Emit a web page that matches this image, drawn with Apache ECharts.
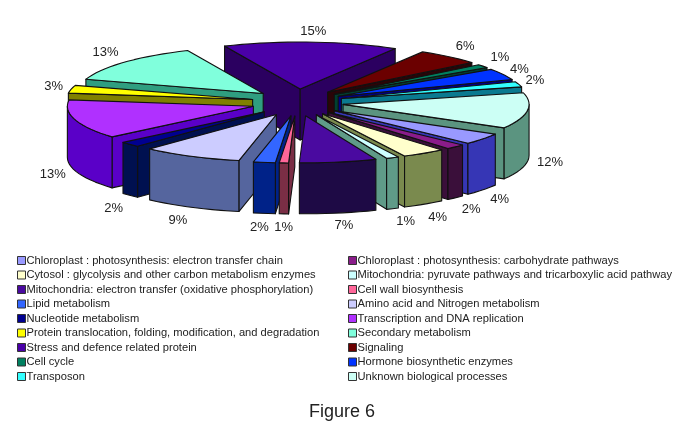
<!DOCTYPE html>
<html>
<head>
<meta charset="utf-8">
<style>
  html, body { margin: 0; padding: 0; background: #fff; }
  #chart { width: 685px; height: 427px; }
</style>
<script src="https://cdn.jsdelivr.net/npm/echarts@6/dist/echarts.min.js"></script>
</head>
<body>
<div id="chart"></div>
<script>
// legend order, the slices run clockwise in this order
const categories = [
  'Chloroplast : photosynthesis: electron transfer chain',
  'Chloroplast : photosynthesis: carbohydrate pathways',
  'Cytosol : glycolysis and other carbon metabolism enzymes',
  'Mitochondria: pyruvate pathways and tricarboxylic acid pathway',
  'Mitochondria: electron transfer (oxidative phosphorylation)',
  'Cell wall biosynthesis',
  'Lipid metabolism',
  'Amino acid and Nitrogen metabolism',
  'Nucleotide metabolism',
  'Transcription and DNA replication',
  'Protein translocation, folding, modification, and degradation',
  'Secondary metabolism',
  'Stress and defence related protein',
  'Signaling',
  'Cell cycle',
  'Hormone biosynthetic enzymes',
  'Transposon',
  'Unknown biological processes'
]
// the labels show them rounded
const percents = [3.9, 1.7, 3.8, 1.1, 6.7, 0.8, 1.9, 8.7, 1.8, 13.45, 2.7, 13.45, 15.2, 5.6, 1.2, 3.9, 1.8, 12.3]

const topColors = ['#9999FF', '#8A1C8A', '#FFFFCC', '#CCFFFF', '#4A0AA0', '#FF6699', '#3366FF', '#CCCCFF', '#000090',
  '#B030FF', '#FFFF00', '#80FFDC', '#4A00A8', '#6B0000', '#008060', '#0033FF', '#33FFFF', '#CCFFF5']
const sideColors = ['#3636B5', '#3A0F3A', '#7A8A4E', '#5F9B88', '#1E0A45', '#7A2E45', '#002288', '#55659E', '#001050',
  '#5A00C8', '#808000', '#2F9E80', '#2B0060', '#2A0508', '#004030', '#000080', '#0A7A90', '#5B9480']

// small shifts of the labels away from the computed spot
const labelShift = [[1, 2], [2, 3], [3, 3], [5, 2], [2, 1], [1, 2], [-2, 2], [-4, 2], [-2, 5],
  [-3, 1], [2, 0], [-4, -2], [1, 1], [3, -1], [1, -1], [-1, 1], [-3, 0], [3, -1]]

const cx = 297.5
const cy = 102.5
const rx = 186
const ry = 47
const explodeX = 46
const explodeY = 13.5
const depth = 51
const firstAngle = 30 // screen degrees, clockwise from east

const total = percents.reduce((a, b) => a + b, 0)
const rad = (d) => (d * Math.PI) / 180

let acc = firstAngle
const slices = percents.map((v, i) => {
  const start = acc
  acc += (v / total) * 360
  const mid = (start + acc) / 2
  return { i, start, end: acc, mid }
})

function arcPoints(s, a, b, dy) {
  const tipX = cx + explodeX * Math.cos(rad(s.mid))
  const tipY = cy + explodeY * Math.sin(rad(s.mid))
  const pts = []
  const n = Math.max(2, Math.ceil((b - a) / 3))
  for (let k = 0; k <= n; k++) {
    const t = rad(a + ((b - a) * k) / n)
    pts.push([tipX + rx * Math.cos(t), tipY + ry * Math.sin(t) + dy])
  }
  return pts
}

function renderSlice(s) {
  return function (params, api) {
    const fill = topColors[s.i]
    const side = sideColors[s.i]
    const line = { stroke: '#111', lineWidth: 1.1, lineJoin: 'round' }
    const tipX = cx + explodeX * Math.cos(rad(s.mid))
    const tipY = cy + explodeY * Math.sin(rad(s.mid))
    const children = []
    const wall = (pts) => {
      const lower = pts.slice().reverse().map((p) => [p[0], p[1] + depth])
      children.push({
        type: 'polygon',
        shape: { points: pts.concat(lower) },
        style: Object.assign({ fill: side }, line)
      })
    }
    // radial walls that face the viewer
    if (Math.cos(rad(s.start)) < 0) wall([[tipX, tipY], arcPoints(s, s.start, s.start, 0)[0]])
    if (Math.cos(rad(s.end)) > 0) wall([[tipX, tipY], arcPoints(s, s.end, s.end, 0)[0]])
    // outer wall, only the front half of the ellipse
    for (let k = 0; k < 2; k++) {
      const a = Math.max(s.start, 360 * k)
      const b = Math.min(s.end, 180 + 360 * k)
      if (b > a) wall(arcPoints(s, a, b, 0))
    }
    children.push({
      type: 'polygon',
      shape: { points: [[tipX, tipY]].concat(arcPoints(s, s.start, s.end, 0)) },
      style: Object.assign({ fill }, line)
    })
    return { type: 'group', children }
  }
}

function renderLabels(params, api) {
  const s = slices[api.value(0)]
  const c = Math.cos(rad(s.mid))
  const n = Math.sin(rad(s.mid))
  const shift = labelShift[s.i]
  return {
    type: 'text',
    style: {
      text: Math.round(percents[s.i]) + '%',
      x: cx + (rx + explodeX + 20) * c + shift[0],
      y: cy + (ry + explodeY + 12) * n + (n > 0 ? depth : 0) + shift[1],
      fill: '#222',
      font: '13px "Liberation Sans"',
      align: 'center',
      verticalAlign: 'middle'
    }
  }
}

// back slices first so the front ones cover them
const drawOrder = slices.slice().sort((a, b) => Math.sin(rad(a.mid)) - Math.sin(rad(b.mid)))

const series = drawOrder.map((s, order) => ({
  type: 'custom',
  name: categories[s.i],
  coordinateSystem: 'none',
  silent: true,
  z: 2 + order,
  itemStyle: { color: topColors[s.i] },
  renderItem: renderSlice(s),
  data: [percents[s.i]]
}))
series.push({
  type: 'custom',
  name: 'labels',
  coordinateSystem: 'none',
  silent: true,
  z: 40,
  renderItem: renderLabels,
  data: percents.map((v, i) => [i, v])
})

const legendBase = {
  orient: 'vertical',
  top: 250,
  icon: 'rect',
  itemWidth: 8,
  itemHeight: 8,
  itemGap: 3.5,
  selectedMode: false,
  itemStyle: { borderColor: '#333', borderWidth: 1 },
  textStyle: { color: '#222', fontFamily: 'Liberation Sans', fontSize: 11.15, padding: [0, 0, 0, -4] }
}

const chart = echarts.init(document.getElementById('chart'))
chart.setOption({
  animation: false,
  backgroundColor: '#fff',
  title: {
    text: 'Figure 6',
    left: 309,
    top: 403,
    padding: 0,
    textStyle: { color: '#222', fontFamily: 'Liberation Sans', fontSize: 18, fontWeight: 'normal' }
  },
  legend: [
    Object.assign({}, legendBase, { left: 12, data: categories.filter((c, i) => i % 2 === 0) }),
    Object.assign({}, legendBase, { left: 343, data: categories.filter((c, i) => i % 2 === 1) })
  ],
  series
})
</script>
</body>
</html>
